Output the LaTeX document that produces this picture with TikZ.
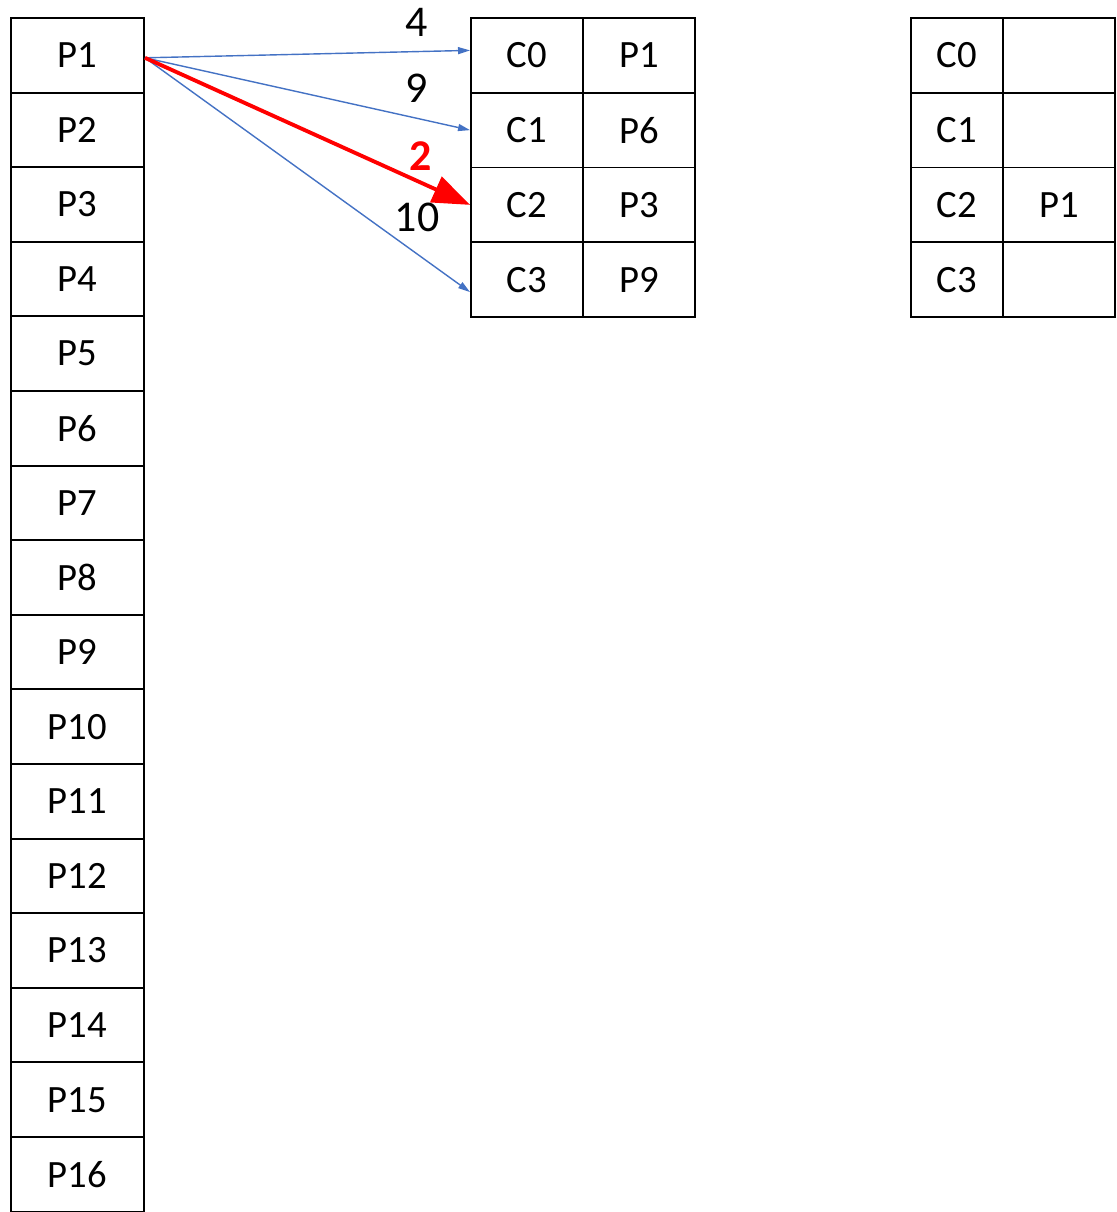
\documentclass[tikz,border=0pt]{standalone}
\usepackage{fontspec}
\setmainfont{Carlito}
\usepackage{tikz}
\usetikzlibrary{arrows.meta}
\tikzset{
  pcell/.style={rectangle, draw, line width=1.1pt, inner sep=0pt,
    minimum width=2.66cm, minimum height=1.492cm, font=\fontsize{22}{24}\selectfont},
  kcell/.style={pcell, minimum width=2.24cm, minimum height=1.495cm},
  ncell/.style={kcell, minimum width=1.84cm},
  lbl/.style={font=\fontsize{25}{28}\selectfont, inner sep=0pt},
  ptr/.style={color={rgb,255:red,68;green,114;blue,196},
    line width=0.8pt, -{Triangle[length=0.24cm, width=0.14cm]}},
  best/.style={draw=red, line width=2.2pt, -{Triangle[length=0.75cm, width=0.55cm]}}
}

\begin{document}
\begin{tikzpicture}
  \useasboundingbox (0,0) rectangle (22.34,-24.24);
  % pages
  \foreach \i in {1,...,16}
    \node[pcell] (p\i) at (1.55,{-0.36-1.492*(\i-0.5)}) {P\i};
  % cache table
  \foreach \k/\v in {0/P1,1/P6,2/P3,3/P9} {
    \node[kcell] (c\k) at (10.54,{-0.36-1.495*(\k+0.5)}) {C\k};
    \node[kcell] (v\k) at (12.78,{-0.36-1.495*(\k+0.5)}) {\v};
  }
  % result table
  \foreach \k/\v in {0/,1/,2/P1,3/} {
    \node[ncell] (rc\k) at (19.14,{-0.36-1.495*(\k+0.5)}) {C\k};
    \node[kcell] (rv\k) at (21.18,{-0.36-1.495*(\k+0.5)}) {\v};
  }
  % costs
  \coordinate (src) at ([yshift=-0.05cm]p1.east);
  \draw[ptr] (src) -- ([yshift=0.1cm]c0.west);
  \draw[ptr] (src) -- (c1.west);
  \draw[ptr] (src) -- ([yshift=-0.25cm]c3.west);
  \draw[best] (src) -- (c2.west);
  \node[lbl] (l4) at (8.34,-0.44) {4};
  \node[lbl] (l9) at (8.34,-1.76) {9};
  \node[lbl, text=red, font=\fontsize{25}{28}\selectfont\bfseries] (l2) at (8.42,-3.12) {2};
  \node[lbl] (l10) at (8.34,-4.34) {10};
\end{tikzpicture}
\end{document}
